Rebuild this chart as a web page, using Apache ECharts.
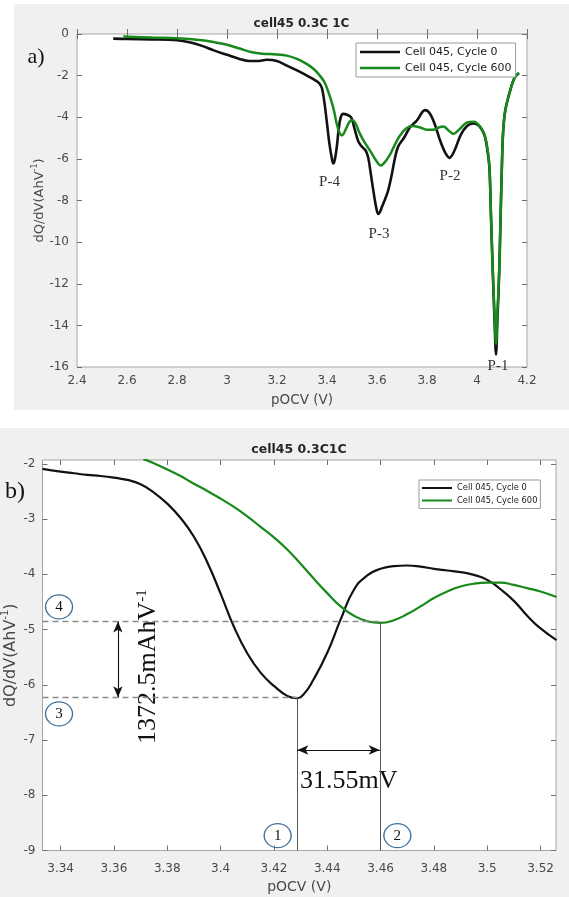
<!DOCTYPE html>
<html>
<head>
<meta charset="utf-8">
<title>cell45 dQ/dV</title>
<script src="https://cdn.jsdelivr.net/npm/echarts@6/dist/echarts.min.js"></script>
<style>
  html, body { margin: 0; padding: 0; background: #fff; }
  #wrap { position: relative; width: 569px; height: 897px; overflow: hidden; }
  .panel { position: absolute; background: #f0f0f0; }
  #chart { position: absolute; left: 0; top: 0; width: 569px; height: 897px; }
</style>
</head>
<body>
<div id="wrap">
  <div class="panel" style="left:14px;top:4px;width:555px;height:406px"></div>
  <div class="panel" style="left:0;top:428px;width:569px;height:469px"></div>
  <div id="chart"></div>
</div>
<script>
// ---- data: panel a) full range ----
const seriesNames = ['Cell 045, Cycle 0', 'Cell 045, Cycle 600'];

const fullV0 = [2.545, 2.60, 2.70, 2.80, 2.85, 2.90, 2.95, 3.00, 3.05, 3.09, 3.12, 3.16, 3.20, 3.24, 3.28,
  3.32, 3.35, 3.37, 3.38, 3.39, 3.40, 3.41, 3.419, 3.425, 3.431, 3.439, 3.447, 3.455, 3.465, 3.48,
  3.497, 3.51, 3.525, 3.54, 3.555, 3.565, 3.575, 3.585, 3.597, 3.605, 3.612, 3.62, 3.632, 3.645, 3.66,
  3.672, 3.685, 3.71, 3.732, 3.76, 3.792, 3.81, 3.83, 3.855, 3.875, 3.89, 3.91, 3.935, 3.96, 3.985,
  4.005, 4.02, 4.032, 4.043, 4.05, 4.056, 4.063, 4.07, 4.076, 4.082, 4.089, 4.094, 4.099, 4.104, 4.112,
  4.125, 4.15, 4.168];
const fullQ0 = [-0.22, -0.24, -0.26, -0.30, -0.40, -0.57, -0.80, -1.00, -1.20, -1.30, -1.30, -1.24, -1.30, -1.52, -1.75,
  -2.00, -2.20, -2.38, -2.62, -3.32, -4.30, -5.30, -5.95, -6.22, -6.05, -5.44, -4.55, -4.00, -3.84, -3.88,
  -4.02, -4.55, -5.15, -5.42, -5.60, -5.95, -6.70, -7.50, -8.35, -8.65, -8.55, -8.30, -7.95, -7.50, -6.70,
  -5.95, -5.40, -4.95, -4.48, -4.15, -3.66, -3.80, -4.30, -5.20, -5.75, -5.95, -5.60, -4.85, -4.42, -4.30,
  -4.38, -4.60, -4.95, -5.70, -6.50, -8.80, -11.4, -13.7, -15.4, -13.6, -11.4, -9.00, -6.60, -4.80, -3.75,
  -3.05, -2.10, -1.87];

const fullV600 = [2.585, 2.70, 2.80, 2.90, 2.95, 3.00, 3.05, 3.10, 3.14, 3.20, 3.24, 3.28, 3.32, 3.35, 3.37,
  3.39, 3.405, 3.42, 3.43, 3.437, 3.445, 3.452, 3.46, 3.467, 3.475, 3.49, 3.50, 3.512, 3.53, 3.55,
  3.572, 3.595, 3.615, 3.632, 3.652, 3.672, 3.692, 3.715, 3.74, 3.77, 3.80, 3.825, 3.85, 3.866, 3.885,
  3.905, 3.93, 3.96, 3.99, 4.005, 4.02, 4.032, 4.043, 4.05, 4.056, 4.063, 4.07, 4.076, 4.082, 4.089,
  4.094, 4.099, 4.104, 4.112, 4.125, 4.15, 4.168];
const fullQ600 = [-0.12, -0.17, -0.20, -0.30, -0.40, -0.52, -0.70, -0.88, -0.95, -0.98, -1.04, -1.20, -1.45, -1.72, -1.98,
  -2.32, -2.77, -3.32, -3.80, -4.22, -4.58, -4.79, -4.88, -4.79, -4.58, -4.22, -4.15, -4.25, -4.75, -5.20,
  -5.60, -6.05, -6.32, -6.15, -5.80, -5.30, -4.88, -4.55, -4.42, -4.48, -4.60, -4.60, -4.48, -4.45, -4.62,
  -4.80, -4.58, -4.25, -4.22, -4.35, -4.60, -4.90, -5.60, -6.40, -8.70, -11.3, -13.4, -14.9, -13.3, -11.3,
  -8.90, -6.60, -4.80, -3.75, -3.05, -2.10, -1.88];

const fullXTicks = [2.4, 2.6, 2.8, 3.0, 3.2, 3.4, 3.6, 3.8, 4.0, 4.2];
const fullYTicks = [-16, -14, -12, -10, -8, -6, -4, -2, 0];

const peakLabels = ['P-1', 'P-2', 'P-3', 'P-4'];
const peakLabelV = [4.084, 3.892, 3.608, 3.41];
const peakLabelQ = [-15.95, -6.83, -9.63, -7.12];

// ---- data: panel b) zoom on P-4 ----
const zoomV0 = [3.3332, 3.34, 3.345, 3.35, 3.355, 3.36, 3.365, 3.37, 3.375, 3.38, 3.385, 3.39, 3.395, 3.40,
  3.405, 3.41, 3.415, 3.42, 3.425, 3.4285, 3.431, 3.4348, 3.44, 3.445, 3.45, 3.455, 3.46, 3.465, 3.47,
  3.475, 3.48, 3.485, 3.49, 3.495, 3.50, 3.505, 3.51, 3.515, 3.52, 3.526];
const zoomQ0 = [-2.09, -2.14, -2.17, -2.20, -2.22, -2.25, -2.29, -2.37, -2.52, -2.72, -2.98, -3.32, -3.78, -4.35,
  -4.95, -5.43, -5.78, -6.02, -6.20, -6.24, -6.18, -5.91, -5.42, -4.82, -4.28, -4.02, -3.90, -3.85, -3.84,
  -3.86, -3.90, -3.93, -3.96, -4.01, -4.10, -4.27, -4.48, -4.75, -4.98, -5.19];

const zoomV600 = [3.371, 3.375, 3.38, 3.385, 3.39, 3.395, 3.40, 3.405, 3.41, 3.415, 3.42, 3.425, 3.43, 3.435,
  3.44, 3.445, 3.45, 3.455, 3.46, 3.465, 3.47, 3.475, 3.48, 3.485, 3.49, 3.495, 3.50, 3.505, 3.51,
  3.515, 3.52, 3.526];
const zoomQ600 = [-1.91, -1.99, -2.10, -2.22, -2.36, -2.49, -2.63, -2.78, -2.95, -3.14, -3.33, -3.55, -3.81, -4.08,
  -4.34, -4.58, -4.75, -4.85, -4.88, -4.83, -4.72, -4.58, -4.43, -4.31, -4.22, -4.17, -4.15, -4.15, -4.19,
  -4.25, -4.31, -4.41];

const zoomXTicks = [3.34, 3.36, 3.38, 3.40, 3.42, 3.44, 3.46, 3.48, 3.50, 3.52];
const zoomYTicks = [-9, -8, -7, -6, -5, -4, -3, -2];
const zoomXRange = [3.3332, 3.5258];
const zoomYRange = [-9, -1.93];

// minima of the P-4 peak (cycle 0, cycle 600) and the annotation anchors
const minV = [3.4288, 3.4597];
const minQ = [-6.225, -4.855];
const arrowV = 3.3615;      // vertical double arrow position
const arrowQ = -7.18;       // horizontal double arrow position
const circleNames = ['1', '2', '3', '4'];
const circleV = [3.4214, 3.4663, 3.3394, 3.3394];
const circleQ = [-8.73, -8.73, -6.526, -4.589];
const deltaQText = ['{a|1372.5mAhV}{s|-1}', 3.3728, -5.67];
const deltaVText = ['31.55mV', 3.4481, -7.741];

// ---- styling ----
const SANS = '"DejaVu Sans", sans-serif';
const SERIF = '"Liberation Serif", "DejaVu Serif", serif';
const BLACK = '#121212';
const GREEN = '#17891b';

function pairs(xs, ys) {
  return xs.map((x, i) => [x, ys[i]]);
}

function boxAxes(gridIndex, xRange, yRange, xTicks, yTicks, m) {
  const tick = { show: true, inside: true, length: 5, lineStyle: { color: '#707070', width: 1 } };
  const label = { color: '#4a4a4a', fontFamily: SANS, fontSize: 12 };
  const xs = [
    { gridIndex, type: 'value', position: 'bottom', min: xRange[0], max: xRange[1],
      axisLine: { show: false }, splitLine: { show: false },
      axisTick: Object.assign({ customValues: xTicks }, tick),
      axisLabel: Object.assign({ customValues: xTicks, margin: m.xLabel }, label),
      name: 'pOCV (V)', nameLocation: 'middle', nameGap: m.xName,
      nameTextStyle: { color: '#4a4a4a', fontFamily: SANS, fontSize: m.xNameSize } },
    { gridIndex, type: 'value', position: 'top', min: xRange[0], max: xRange[1],
      axisLine: { show: false }, splitLine: { show: false }, axisLabel: { show: false },
      axisTick: Object.assign({ customValues: xTicks }, tick) }
  ];
  const ys = [
    { gridIndex, type: 'value', position: 'left', min: yRange[0], max: yRange[1],
      axisLine: { show: false }, splitLine: { show: false },
      axisTick: Object.assign({ customValues: yTicks }, tick),
      axisLabel: Object.assign({ customValues: yTicks, margin: m.yLabel }, label),
      name: '{n|dQ/dV(AhV}{s|-1}{n|)}', nameLocation: 'middle', nameGap: m.yName, nameRotate: 90,
      nameMoveOverlap: false,
      nameTextStyle: { color: '#4a4a4a', rich: {
        n: { fontFamily: SANS, fontSize: m.yNameSize, lineHeight: m.yNameSize + 4, color: '#4a4a4a' },
        s: { fontFamily: SANS, fontSize: Math.round(m.yNameSize * 0.62), verticalAlign: 'top', color: '#4a4a4a' }
      } } },
    { gridIndex, type: 'value', position: 'right', min: yRange[0], max: yRange[1],
      axisLine: { show: false }, splitLine: { show: false }, axisLabel: { show: false },
      axisTick: Object.assign({ customValues: yTicks }, tick) }
  ];
  return { xs, ys };
}

const axesA = boxAxes(0, [2.4, 4.2], [-16, 0], fullXTicks, fullYTicks,
  { xLabel: 8, xName: 26, xNameSize: 13.5, yLabel: 8, yName: 29, yNameSize: 13 });
const axesB = boxAxes(1, zoomXRange, zoomYRange, zoomXTicks, zoomYTicks,
  { xLabel: 12, xName: 30, xNameSize: 14, yLabel: 7, yName: 22, yNameSize: 16 });

const dashed = { color: '#8a8a8a', type: [6, 4], width: 1.3 };
const stem = { color: '#555', type: 'solid', width: 1 };
const arrow = { color: '#111', type: 'solid', width: 1.1 };

const option = {
  animation: false,
  grid: [
    { left: 77, top: 34, width: 450, height: 333, show: true, backgroundColor: '#fff',
      borderColor: '#a6a6a6', borderWidth: 1, containLabel: false, outerBoundsMode: 'none' },
    { left: 42.5, top: 460, width: 513.5, height: 390.5, show: true, backgroundColor: '#fff',
      borderColor: '#a6a6a6', borderWidth: 1, containLabel: false, outerBoundsMode: 'none' }
  ],
  xAxis: axesA.xs.concat(axesB.xs),
  yAxis: axesA.ys.concat(axesB.ys),
  legend: [
    { data: seriesNames, orient: 'vertical', left: 356, top: 43, padding: [2, 4, 2, 4],
      itemWidth: 40, itemHeight: 2.5, itemGap: 2, icon: 'rect', selectedMode: false,
      backgroundColor: '#fff', borderColor: '#9a9a9a', borderWidth: 1,
      textStyle: { fontFamily: SANS, fontSize: 11, lineHeight: 14, color: '#222' } },
    { data: seriesNames, orient: 'vertical', left: 419, top: 480, padding: [2.5, 3, 2.5, 3],
      itemWidth: 30, itemHeight: 2, itemGap: 1.5, icon: 'rect', selectedMode: false,
      backgroundColor: '#fff', borderColor: '#9a9a9a', borderWidth: 1,
      textStyle: { fontFamily: SANS, fontSize: 8.3, lineHeight: 11, color: '#222' } }
  ],
  series: [
    { name: seriesNames[0], type: 'line', xAxisIndex: 0, yAxisIndex: 0, data: pairs(fullV0, fullQ0),
      showSymbol: false, smooth: 0.35, lineStyle: { color: BLACK, width: 2.6 }, itemStyle: { color: BLACK } },
    { name: seriesNames[1], type: 'line', xAxisIndex: 0, yAxisIndex: 0, data: pairs(fullV600, fullQ600),
      showSymbol: false, smooth: 0.35, lineStyle: { color: GREEN, width: 2.5 }, itemStyle: { color: GREEN } },
    { name: seriesNames[0], type: 'line', xAxisIndex: 2, yAxisIndex: 2, data: pairs(zoomV0, zoomQ0),
      showSymbol: false, smooth: 0.5, lineStyle: { color: BLACK, width: 2.2 }, itemStyle: { color: BLACK },
      markLine: {
        silent: true, symbol: 'none', label: { show: false }, animation: false,
        data: [
          [{ coord: [zoomXRange[0], minQ[1]], lineStyle: dashed }, { coord: [minV[1], minQ[1]], lineStyle: dashed }],
          [{ coord: [zoomXRange[0], minQ[0]], lineStyle: dashed }, { coord: [minV[0], minQ[0]], lineStyle: dashed }],
          [{ coord: [minV[0], minQ[0]], lineStyle: stem }, { coord: [minV[0], zoomYRange[0]], lineStyle: stem }],
          [{ coord: [minV[1], minQ[1]], lineStyle: stem }, { coord: [minV[1], zoomYRange[0]], lineStyle: stem }],
          [{ coord: [arrowV, minQ[1]], symbol: 'arrow', symbolSize: [7, 11], lineStyle: arrow },
           { coord: [arrowV, minQ[0]], symbol: 'arrow', symbolSize: [7, 11], lineStyle: arrow }],
          [{ coord: [minV[0], arrowQ], symbol: 'arrow', symbolSize: [7, 11], lineStyle: arrow },
           { coord: [minV[1], arrowQ], symbol: 'arrow', symbolSize: [7, 11], lineStyle: arrow }]
        ]
      },
      markPoint: {
        silent: true, animation: false, symbol: 'circle', symbolSize: [27, 24],
        itemStyle: { color: 'rgba(255,255,255,0)', borderColor: '#41719c', borderWidth: 1.3 },
        label: { show: true, position: 'inside', formatter: '{b}', color: '#111', fontFamily: SERIF, fontSize: 15 },
        data: circleNames.map((n, i) => ({ name: n, coord: [circleV[i], circleQ[i]] }))
      } },
    { name: seriesNames[1], type: 'line', xAxisIndex: 2, yAxisIndex: 2, data: pairs(zoomV600, zoomQ600),
      showSymbol: false, smooth: 0.5, lineStyle: { color: GREEN, width: 2.2 }, itemStyle: { color: GREEN } }
  ]
};

const chart = echarts.init(document.getElementById('chart'));
chart.setOption(option);

// texts placed through the axes
const toA = (v, q) => chart.convertToPixel({ xAxisIndex: 0, yAxisIndex: 0 }, [v, q]);
const toB = (v, q) => chart.convertToPixel({ xAxisIndex: 2, yAxisIndex: 2 }, [v, q]);

const graphics = [
  { type: 'text', x: 301.5, y: 24, style: { text: 'cell45 0.3C 1C', font: 'bold 12px ' + SANS, fill: '#262626',
    textAlign: 'center', textVerticalAlign: 'middle' } },
  { type: 'text', x: 299, y: 449.5, style: { text: 'cell45 0.3C1C', font: 'bold 12.5px ' + SANS, fill: '#262626',
    textAlign: 'center', textVerticalAlign: 'middle' } },
  { type: 'text', x: 36, y: 57, style: { text: 'a)', font: '22px ' + SERIF, fill: '#111',
    textAlign: 'center', textVerticalAlign: 'middle' } },
  { type: 'text', x: 15, y: 492, style: { text: 'b)', font: '24px ' + SERIF, fill: '#111',
    textAlign: 'center', textVerticalAlign: 'middle' } }
];

peakLabels.forEach((t, i) => {
  const p = toA(peakLabelV[i], peakLabelQ[i]);
  graphics.push({ type: 'text', x: p[0], y: p[1], z: 50, style: { text: t, font: '15px ' + SERIF, fill: '#333',
    textAlign: 'center', textVerticalAlign: 'middle' } });
});

const pv = toB(deltaVText[1], deltaVText[2]);
graphics.push({ type: 'text', x: pv[0], y: pv[1], style: { text: deltaVText[0], font: '26px ' + SERIF, fill: '#111',
  textAlign: 'center', textVerticalAlign: 'middle' } });

const pq = toB(deltaQText[1], deltaQText[2]);
graphics.push({ type: 'text', x: pq[0], y: pq[1], rotation: Math.PI / 2, style: {
  text: deltaQText[0], fill: '#111', textAlign: 'center', textVerticalAlign: 'middle',
  rich: {
    a: { fontFamily: SERIF, fontSize: 26, lineHeight: 28, fill: '#111' },
    s: { fontFamily: SERIF, fontSize: 15, verticalAlign: 'top', fill: '#111' }
  } } });

chart.setOption({ graphic: graphics });
</script>
</body>
</html>
